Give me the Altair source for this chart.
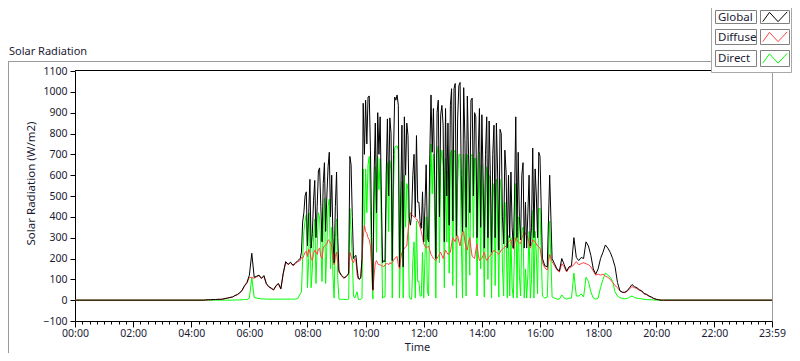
import altair as alt
import pandas as pd

# ---------------- data (W/m2) ----------------
# 5-minute samples from 04:30 to 20:10
day_start, day_end, step = 270, 1210, 5   # minutes after midnight

global_wm2 = [
    1, 2, 2, 3, 3, 4,                                               # 04:30-04:55
    4, 5, 8, 10, 13, 15, 22, 27, 35, 48, 70, 85,                    # 05
    120, 225, 110, 115, 120, 105, 118, 80, 65, 58, 50, 70,          # 06
    80, 55, 130, 185, 172, 182, 168, 178, 190, 200, 375, 500,       # 07
    260, 580, 320, 575, 450, 635, 280, 660, 500, 710, 600, 180,     # 08
    615, 140, 120, 108, 115, 130, 650, 200, 215, 105, 110, 945,     # 09
    960, 975, 720, 50, 850, 900, 880, 180, 185, 870, 875, 190,      # 10
    975, 985, 160, 840, 880, 850, 400, 410, 700, 790, 470, 345,     # 11
    280, 650, 280, 985, 920, 200, 960, 890, 840, 920, 850, 935,     # 12
    380, 1040, 870, 1045, 330, 770, 980, 420, 970, 900, 300, 920,   # 13
    890, 250, 880, 860, 230, 840, 850, 240, 800, 270, 615, 600,     # 14
    615, 250, 880, 710, 290, 660, 470, 420, 260, 730, 630, 300,     # 15
    690, 200, 165, 160, 600, 200, 175, 150, 140, 200, 170, 140,     # 16
    160, 165, 300, 205, 190, 205, 200, 280, 260, 215, 150, 125,     # 17
    150, 200, 230, 265, 250, 230, 200, 160, 85, 45, 38, 38,         # 18
    45, 60, 75, 65, 60, 50, 45, 32, 28, 20, 15, 8,                  # 19
    4, 2, 0,                                                        # 20:00-20:10
]

diffuse_wm2 = [
    1, 2, 2, 3, 3, 4,
    4, 5, 8, 10, 13, 15, 21, 26, 34, 46, 67, 82,
    110, 108, 105, 112, 118, 103, 115, 78, 63, 56, 48, 68,
    78, 53, 128, 182, 170, 180, 165, 175, 185, 190, 200, 230,
    210, 230, 190, 240, 220, 250, 200, 260, 270, 285, 260, 170,
    230, 135, 118, 105, 112, 125, 210, 180, 190, 102, 107, 300,
    330, 300, 260, 45, 180, 175, 170, 165, 170, 175, 180, 180,
    200, 210, 150, 230, 250, 260, 380, 410, 400, 390, 370, 330,
    270, 250, 260, 220, 200, 190, 210, 230, 200, 240, 220, 230,
    300, 280, 310, 260, 320, 280, 240, 300, 210, 200, 270, 190,
    200, 230, 190, 210, 220, 240, 230, 220, 240, 250, 260, 280,
    290, 245, 300, 280, 270, 310, 320, 300, 250, 290, 280, 260,
    250, 180, 155, 145, 220, 185, 165, 145, 135, 175, 160, 135,
    155, 160, 170, 185, 170, 175, 180, 175, 170, 160, 140, 120,
    125, 120, 125, 115, 110, 100, 85, 70, 60, 45, 38, 36,
    42, 55, 65, 60, 55, 48, 42, 30, 26, 19, 14, 7,
    4, 2, 0,
]

direct_wm2 = [
    0, 0, 0, 0, 0, 0,
    0, 0, 0, 0, 0, 0, 1, 1, 1, 2, 3, 3,
    10, 110, 12, 10, 8, 6, 6, 5, 5, 5, 5, 5,
    5, 5, 5, 5, 5, 5, 5, 5, 8, 30, 200, 380,
    60, 420, 150, 390, 250, 395, 90, 490, 260, 485, 350, 10,
    390, 5, 3, 3, 3, 5, 330, 20, 25, 3, 3, 630,
    630, 650, 430, 5, 640, 690, 680, 10, 15, 660, 670, 10,
    730, 740, 10, 570, 600, 560, 20, 5, 280, 380, 90, 20,
    10, 400, 20, 750, 700, 10, 740, 650, 640, 680, 620, 700,
    70, 720, 560, 700, 10, 470, 700, 120, 700, 680, 20, 710,
    650, 15, 640, 600, 10, 560, 580, 15, 520, 20, 350, 310,
    300, 10, 560, 400, 20, 350, 150, 120, 10, 430, 330, 30,
    440, 20, 10, 15, 380, 15, 10, 5, 5, 25, 10, 5,
    10, 10, 130, 20, 20, 30, 15, 110, 90, 40, 10, 5,
    10, 60, 100, 130, 120, 110, 90, 40, 20, 12, 8, 6,
    8, 15, 20, 12, 10, 8, 6, 4, 3, 2, 2, 1,
    0, 0, 0,
]

# extra samples in the busy part of the day, 2.5 min after each 5-min sample
# (07:47.5 ... 15:57.5)
half_start, half_count = 467.5, 99

global_half = [
    230, 420, 520,                                                  # 07
    420, 250, 480, 300, 620, 450, 560, 330, 640, 400, 300, 450,     # 08
    300, 130, 115, 110, 120, 690, 400, 210, 150, 100, 200, 700,     # 09
    750, 980, 300, 600, 420, 700, 500, 190, 600, 500, 800, 700,     # 10
    960, 935, 500, 160, 600, 790, 360, 600, 400, 470, 375, 520,     # 11
    450, 300, 700, 710, 600, 900, 400, 935, 280, 500, 360, 1015,    # 12
    1015, 310, 1030, 600, 1020, 350, 700, 960, 500, 880, 700, 350,  # 13
    600, 700, 300, 600, 700, 300, 620, 820, 400, 720, 250, 300,     # 14
    350, 500, 300, 400, 600, 250, 250, 600, 350, 300, 500, 710,     # 15
]

diffuse_half = [
    205, 215, 235,
    245, 200, 225, 230, 245, 210, 250, 265, 290, 275, 190, 210,
    180, 125, 110, 108, 120, 230, 190, 200, 120, 104, 200, 360,
    320, 290, 150, 120, 190, 170, 165, 160, 175, 170, 175, 190,
    205, 170, 200, 240, 255, 330, 420, 405, 395, 380, 350, 300,
    260, 255, 240, 210, 195, 200, 220, 215, 220, 230, 225, 270,
    290, 300, 280, 300, 330, 250, 280, 250, 205, 240, 220, 195,
    215, 205, 200, 215, 230, 235, 225, 230, 245, 255, 270, 285,
    265, 270, 290, 275, 300, 330, 310, 270, 270, 285, 270, 255,
]

direct_half = [
    40, 330, 410,
    200, 60, 300, 80, 420, 260, 360, 80, 450, 150, 120, 300,
    100, 5, 5, 3, 3, 440, 200, 10, 40, 3, 10, 340,
    420, 690, 150, 480, 230, 530, 330, 15, 420, 330, 620, 520,
    740, 720, 300, 10, 350, 530, 5, 190, 10, 90, 20, 230,
    200, 40, 460, 510, 410, 700, 180, 720, 60, 280, 130, 720,
    710, 10, 700, 300, 700, 20, 420, 690, 300, 680, 480, 150,
    400, 480, 100, 390, 480, 70, 380, 580, 160, 470, 10, 20,
    60, 250, 10, 120, 330, 10, 10, 330, 100, 10, 220, 440,
]

# night: zero readings before and after the day
night_minutes = [0, 265, 1215, 1439]
night_values = [0, 0, 0, 0]

series_names = ["Global", "Diffuse", "Direct"]
series_colors = ["#000000", "#ff4040", "#00ff00"]

tick_minutes = [0, 120, 240, 360, 480, 600, 720, 840, 960, 1080, 1200, 1320, 1439]
tick_labels = ["00:00", "02:00", "04:00", "06:00", "08:00", "10:00", "12:00",
               "14:00", "16:00", "18:00", "20:00", "22:00", "23:59"]
y_ticks = [-100, 0, 100, 200, 300, 400, 500, 600, 700, 800, 900, 1000, 1100]

# ---------------- build table ----------------
day_minutes = list(range(day_start, day_end + 1, step))
half_minutes = [half_start + 5 * i for i in range(half_count)]
assert len(day_minutes) == len(global_wm2) == len(diffuse_wm2) == len(direct_wm2)
assert len(half_minutes) == len(global_half) == len(diffuse_half) == len(direct_half)

rows = []
for name, vals, halves in zip(series_names,
                              [global_wm2, diffuse_wm2, direct_wm2],
                              [global_half, diffuse_half, direct_half]):
    pts = list(zip(night_minutes, night_values)) + list(zip(day_minutes, vals)) \
        + list(zip(half_minutes, halves))
    for t, v in sorted(pts):
        rows.append({"t": t, "v": v, "series": name})
df = pd.DataFrame(rows)

W, H = 697, 250
FONT = "Noto Sans"
TXT = "#1a1a33"

minor_ticks = list(range(0, 1439, 15)) + [1439]
label_expr = ""
for m, lab in zip(tick_minutes, tick_labels):
    label_expr += f"datum.value == {m} ? '{lab}' : "
label_expr += "''"

x_enc = alt.X(
    "t:Q",
    sort=None,
    scale=alt.Scale(domain=[0, 1439], nice=False, zero=False),
    axis=alt.Axis(
        values=minor_ticks, labelExpr=label_expr, labelOverlap=False,
        labelFlush=False, grid=False, title="Time",
        tickSize={"condition": {"test": "datum.value % 120 == 0 || datum.value == 1439", "value": 6}, "value": 3},
        labelPadding=1, titleX=342, titleY=29, titleBaseline="alphabetic",
        titleAlign="center",
    ),
)
y_enc = alt.Y(
    "v:Q",
    scale=alt.Scale(domain=[-100, 1100], nice=False, zero=False),
    axis=alt.Axis(
        values=y_ticks, format="d", grid=False, title="Solar Radiation (W/m2)",
        tickSize=5, labelPadding=3, labelFlush=False,
        titleX=-44, titleY=112, titleBaseline="middle", titleAngle=270,
        titleAlign="center", titleFontSize=11.5,
    ),
)

base = alt.Chart(df)
line_layers = []
for name, col in [("Direct", "#00ff00"), ("Diffuse", "#ff4040"), ("Global", "#000000")]:
    line_layers.append(
        base.transform_filter(alt.datum.series == name)
        .mark_line(color=col, strokeWidth=1)
        .encode(x=x_enc, y=y_enc)
    )

one = pd.DataFrame({"k": [0]})

def rule_h(x1, x2, y, color):
    return alt.Chart(one).mark_rule(color=color, strokeWidth=1).encode(
        x=alt.value(x1), x2=alt.value(x2), y=alt.value(y))

def rule_v(x, y1, y2, color):
    return alt.Chart(one).mark_rule(color=color, strokeWidth=1).encode(
        x=alt.value(x), y=alt.value(y1), y2=alt.value(y2))

def box(x1, x2, y1, y2, stroke):
    return alt.Chart(one).mark_rect(fill="#ffffff", stroke=stroke, strokeWidth=1).encode(
        x=alt.value(x1), x2=alt.value(x2), y=alt.value(y1), y2=alt.value(y2))

deco = [
    rule_h(0, W, -0.5, "#000000"),          # plot top edge
    rule_v(W + 0.5, 0, H, "#9a9a9a"),       # plot right edge
    rule_h(-67, 640, -9.5, "#9a9a9a"),      # outer panel top
    rule_v(-66.5, -9.5, H + 40, "#9a9a9a"), # outer panel left
]

title_txt = alt.Chart(pd.DataFrame({"s": ["Solar Radiation"]})).mark_text(
    align="left", baseline="middle", font=FONT, fontSize=11, color=TXT
).encode(text="s:N", x=alt.value(-66), y=alt.value(-19.5))

# legend
leg = [box(636.5, 716.5, -80, 1.5, "#a8a8a8")]
row_y = [(-60.5, -47.5), (-41.5, -26.5), (-20.5, -4.5)]
zig = "M-1,0.38L-0.45,-0.38L0.25,0.38L1,-0.42"
for name, col, (y1, y2) in zip(series_names, series_colors, row_y):
    yc = (y1 + y2) / 2
    leg.append(box(640.5, 681.5, y1, y2, "#808080"))
    leg.append(box(685.5, 714.5, y1, y2, "#808080"))
    leg.append(
        alt.Chart(pd.DataFrame({"label": [name]})).mark_text(
            align="left", baseline="middle", font=FONT, fontSize=11.5, color=TXT
        ).encode(text="label:N", x=alt.value(643), y=alt.value(yc + 0.5))
    )
    leg.append(
        alt.Chart(one).mark_point(shape=zig, size=600, filled=False, color=col,
                                  strokeWidth=1, opacity=1)
        .encode(x=alt.value(700), y=alt.value(yc))
    )

chart = alt.layer(*deco, *line_layers, title_txt, *leg).properties(
    width=W, height=H,
    autosize=alt.AutoSizeParams(type="none"),
    padding={"left": 67, "top": 63, "right": 20, "bottom": 32},
).configure_view(strokeWidth=0).configure_axis(
    domainColor="#000000", tickColor="#000000", labelColor=TXT, titleColor=TXT,
    labelFont=FONT, titleFont=FONT, labelFontSize=10.5, titleFontSize=11,
    titleFontWeight="normal", domainWidth=1, tickWidth=1,
)

chart.save("out.html", embed_options={"renderer": "svg", "actions": False})
